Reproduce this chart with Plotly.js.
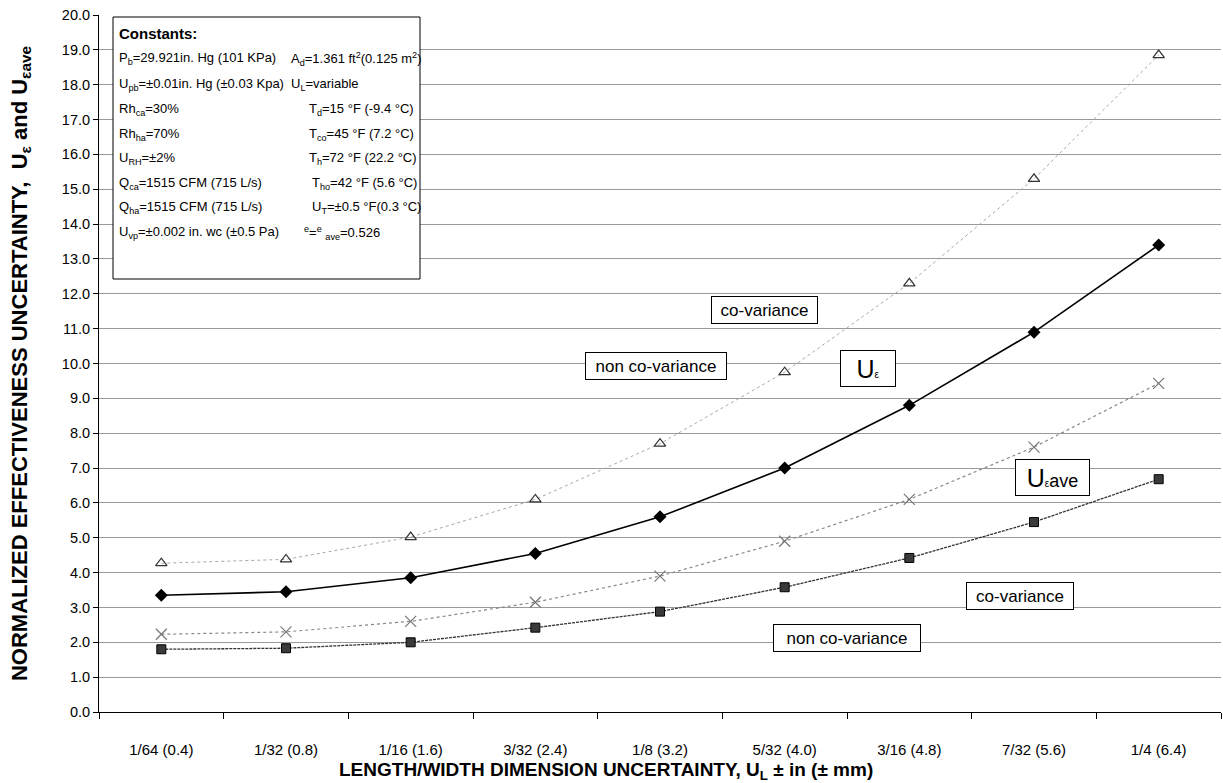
<!DOCTYPE html>
<html>
<head>
<meta charset="utf-8">
<script src="https://cdn.plot.ly/plotly-3.0.1.min.js"></script>
<style>html,body{margin:0;padding:0;background:#fff;}#chart{width:1223px;height:783px;}</style>
</head>
<body>
<div id="chart"></div>
<script>
// ---- data ----
const categories = ['1/64 (0.4)','1/32 (0.8)','1/16 (1.6)','3/32 (2.4)','1/8 (3.2)','5/32 (4.0)','3/16 (4.8)','7/32 (5.6)','1/4 (6.4)'];
const uEpsCovariance     = [3.35, 3.45, 3.85, 4.55, 5.60, 7.00, 8.80, 10.90, 13.40];   // diamonds, solid
const uEpsNonCovariance  = [4.27, 4.38, 5.02, 6.10, 7.70, 9.75, 12.30, 15.30, 18.85]; // open triangles, dotted
const uEpsAveNonCov      = [2.23, 2.30, 2.60, 3.15, 3.90, 4.90, 6.10, 7.60, 9.43];    // x marks, dotted
const uEpsAveCov         = [1.80, 1.83, 2.00, 2.42, 2.88, 3.58, 4.42, 5.45, 6.68];    // squares, dashed
const yTickVals = [0,1,2,3,4,5,6,7,8,9,10,11,12,13,14,15,16,17,18,19,20];

// ---- layout helpers (pixel -> paper) ----
const W = 1223, H = 783;
const M = {l: 99, r: 2, t: 15, b: 71};
const PW = W - M.l - M.r, PH = H - M.t - M.b;
const px = x => (x - M.l) / PW;
const py = y => (H - M.b - y) / PH;
const FONT = 'Liberation Sans, Arial, Helvetica, sans-serif';

const traces = [
  {x: categories, y: uEpsNonCovariance, name: 'U\u03b5 non co-variance', mode: 'lines+markers',
   line: {color: '#a8a8a8', width: 1, dash: 'dot'},
   marker: {symbol: 'triangle-up-open', size: 10, color: '#333', line: {width: 1.2, color: '#333'}}},
  {x: categories, y: uEpsAveNonCov, name: 'U\u03b5ave non co-variance', mode: 'lines+markers',
   line: {color: '#888', width: 1.2, dash: 'dot'},
   marker: {symbol: 'x-thin-open', size: 11, color: '#777', line: {width: 1.2, color: '#777'}}},
  {x: categories, y: uEpsAveCov, name: 'U\u03b5ave co-variance', mode: 'lines+markers',
   line: {color: '#333', width: 1.3, dash: '3px,1px'},
   marker: {symbol: 'square', size: 9, color: '#3a3a3a', line: {width: 1, color: '#000'}}},
  {x: categories, y: uEpsCovariance, name: 'U\u03b5 co-variance', mode: 'lines+markers',
   line: {color: '#000', width: 1.6},
   marker: {symbol: 'diamond', size: 10, color: '#000'}}
];

const boxAnn = (text, x, y, size, w, h) => ({
  xref: 'paper', yref: 'paper', x: px(x), y: py(y), xanchor: 'center', yanchor: 'middle',
  text: text, showarrow: false, font: {family: FONT, size: size || 16, color: '#000'},
  width: w, height: h,
  bgcolor: '#fff', bordercolor: '#000', borderwidth: 1, borderpad: 3
});
const txt = (text, x, y, size, bold) => ({
  xref: 'paper', yref: 'paper', x: px(x), y: py(y), xanchor: 'left', yanchor: 'middle',
  text: bold ? '<b>' + text + '</b>' : text, showarrow: false,
  font: {family: FONT, size: size || 13, color: '#000'}
});

const annotations = [
  boxAnn('co-variance', 764, 310, 17, 99, 20),
  boxAnn('non co-variance', 656, 366, 17, 134, 20),
  boxAnn('U<span style="font-size:10px">\u03b5</span>', 868, 368, 25, 48, 29),
  boxAnn('U<span style="font-size:10px">\u03b5</span><span style="font-size:18px">ave</span>', 1052, 477, 25, 67, 29),
  boxAnn('co-variance', 1020, 596, 17, 100, 20),
  boxAnn('non co-variance', 847, 638, 17, 140, 20),
  // constants box text
  txt('Constants:', 117, 33, 15, true),
  txt('P<sub>b</sub>=29.921in. Hg (101 KPa)', 117, 59),
  txt('U<sub>pb</sub>=\u00b10.01in. Hg (\u00b10.03 Kpa)', 117, 84),
  txt('Rh<sub>ca</sub>=30%', 117, 109),
  txt('Rh<sub>ha</sub>=70%', 117, 134),
  txt('U<sub>RH</sub>=\u00b12%', 117, 158),
  txt('Q<sub>ca</sub>=1515 CFM (715 L/s)', 117, 183),
  txt('Q<sub>ha</sub>=1515 CFM (715 L/s)', 117, 208),
  txt('U<sub>vp</sub>=\u00b10.002 in. wc (\u00b10.5 Pa)', 117, 233),
  txt('A<sub>d</sub>=1.361 ft<sup>2</sup>(0.125 m<sup>2</sup>)', 289, 59),
  txt('U<sub>L</sub>=variable', 289, 84),
  txt('T<sub>d</sub>=15 \u00b0F (-9.4 \u00b0C)', 307, 109),
  txt('T<sub>co</sub>=45 \u00b0F (7.2 \u00b0C)', 307, 134),
  txt('T<sub>h</sub>=72 \u00b0F (22.2 \u00b0C)', 307, 158),
  txt('T<sub>ho</sub>=42 \u00b0F (5.6 \u00b0C)', 310, 183),
  txt('U<sub>T</sub>=\u00b10.5 \u00b0F(0.3 \u00b0C)', 310, 208),
  txt('<sup>e</sup>=<sup>e</sup> <sub>ave</sub>=0.526', 302, 233),
  // x axis title
  {xref: 'paper', yref: 'paper', x: px(606), y: py(771), xanchor: 'center', yanchor: 'middle',
   showarrow: false, text: '<b>LENGTH/WIDTH DIMENSION UNCERTAINTY, U<sub>L</sub> \u00b1 in (\u00b1 mm)</b>',
   font: {family: FONT, size: 19, color: '#000'}}
];

const layout = {
  width: W, height: H,
  margin: M,
  paper_bgcolor: '#fff', plot_bgcolor: '#fff',
  showlegend: false,
  font: {family: FONT, color: '#000'},
  xaxis: {
    type: 'category', range: [-0.5, 8.5],
    showline: true, linecolor: '#000', linewidth: 1,
    ticks: 'outside', tickson: 'boundaries', ticklen: 6, tickcolor: '#000',
    showgrid: false, zeroline: false, ticklabelstandoff: 24,
    tickfont: {family: FONT, size: 15, color: '#000'}
  },
  yaxis: {
    range: [0, 20], tickvals: yTickVals, tickformat: '.1f',
    showline: true, linecolor: '#000', linewidth: 1,
    ticks: 'outside', ticklen: 5, tickcolor: '#000',
    showgrid: true, gridcolor: '#9a9a9a', gridwidth: 1,
    zeroline: false,
    tickfont: {family: FONT, size: 14.5, color: '#000'},
    title: {text: '<b>NORMALIZED EFFECTIVENESS UNCERTAINTY,  U<sub>\u03b5</sub> and U<sub>\u03b5ave</sub></b>',
            font: {family: FONT, size: 22, color: '#000'}, standoff: 28}
  },
  shapes: [
    {type: 'rect', xref: 'paper', yref: 'paper', x0: px(113), x1: px(420), y0: py(279), y1: py(17),
     line: {color: '#000', width: 1}, fillcolor: '#fff', layer: 'above'}
  ],
  annotations: annotations
};

Plotly.newPlot('chart', traces, layout, {displayModeBar: false, staticPlot: true});
</script>
</body>
</html>
